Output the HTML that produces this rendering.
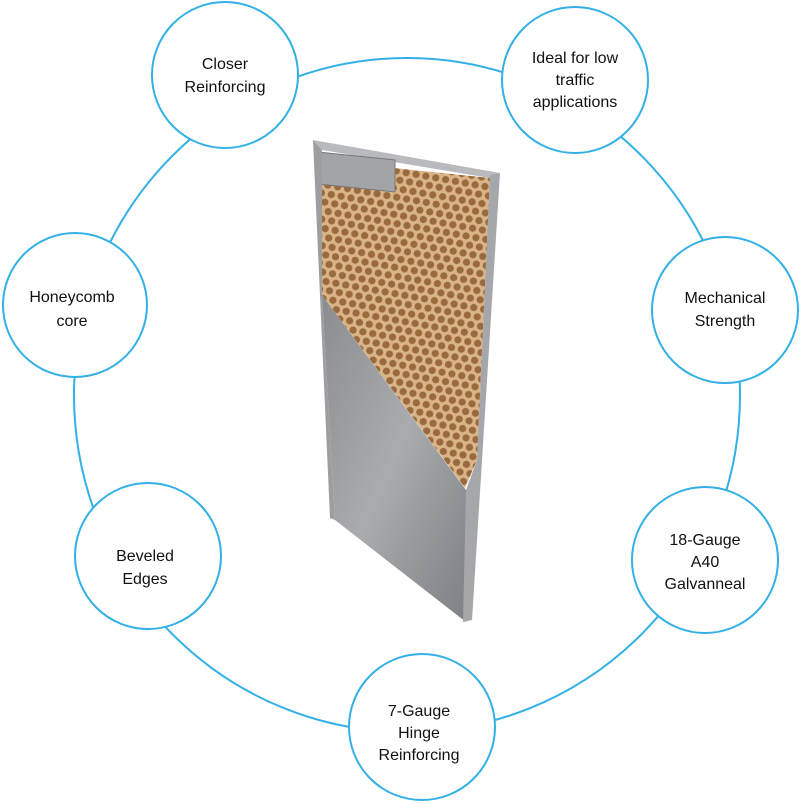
<!DOCTYPE html>
<html><head><meta charset="utf-8"><style>
html,body{margin:0;padding:0;background:#fff;width:800px;height:804px;overflow:hidden}
svg{display:block}
text{font-family:"Liberation Sans",sans-serif;font-size:16px;fill:#111;text-anchor:middle}
</style></head><body>
<svg width="800" height="804" viewBox="0 0 800 804">
<defs>
<pattern id="hc" width="10" height="17.3" patternUnits="userSpaceOnUse" patternTransform="rotate(10)">
<rect width="10" height="17.3" fill="#d8b488"/>
<circle cx="5" cy="4.3" r="3.6" fill="#9a6a3c"/>
<circle cx="0" cy="13" r="3.6" fill="#9a6a3c"/>
<circle cx="10" cy="13" r="3.6" fill="#9a6a3c"/>
</pattern>
<linearGradient id="gp" x1="0" y1="0" x2="1" y2="1">
<stop offset="0" stop-color="#8a8c8f"/><stop offset="0.5" stop-color="#a9abae"/><stop offset="1" stop-color="#7d8084"/>
</linearGradient>
</defs>
<ellipse cx="407" cy="395" rx="333" ry="337" fill="none" stroke="#33b0e6" stroke-width="2"/>
<polygon points="313,140 500,173 490,178 322,150" fill="#b8babd"/>
<polygon points="318,160 490,178 477,460 465,488 322,295" fill="url(#hc)"/>
<polygon points="318,152 395,160 395,192 318,184" fill="#a2a4a7" stroke="#777" stroke-width="1"/>
<polygon points="313,140 322,150 322,295 335,520 330,518" fill="#9c9ea1"/>
<polygon points="322,295 466,490 466,622 335,520" fill="url(#gp)"/>
<polygon points="490,175 500,173 472,620 463,622 466,490 477,460" fill="#a5a7aa"/>
<g fill="#fff" stroke="#33b0e6" stroke-width="2">
<circle cx="225" cy="75" r="73"/>
<circle cx="575" cy="80" r="73"/>
<circle cx="75" cy="305" r="72"/>
<circle cx="725" cy="310" r="73"/>
<circle cx="148" cy="556" r="73"/>
<circle cx="705" cy="560" r="73"/>
<circle cx="422" cy="727" r="73"/>
</g>
<text x="225" y="69">Closer</text><text x="225" y="92">Reinforcing</text>
<text x="575" y="63">Ideal for low</text><text x="575" y="85">traffic</text><text x="575" y="107">applications</text>
<text x="72" y="302">Honeycomb</text><text x="72" y="326">core</text>
<text x="725" y="303">Mechanical</text><text x="725" y="326">Strength</text>
<text x="145" y="561">Beveled</text><text x="145" y="584">Edges</text>
<text x="705" y="545">18-Gauge</text><text x="705" y="567">A40</text><text x="705" y="589">Galvanneal</text>
<text x="419" y="716">7-Gauge</text><text x="419" y="738">Hinge</text><text x="419" y="760">Reinforcing</text>
</svg>
</body></html>
